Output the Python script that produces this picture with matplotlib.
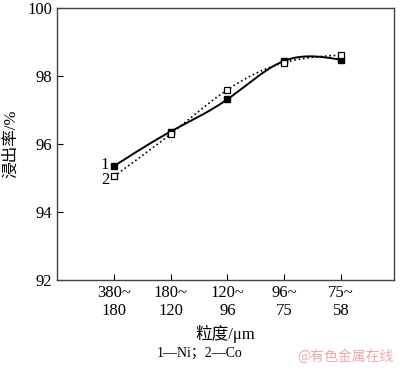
import numpy as np
import matplotlib.pyplot as plt

plt.rcParams['font.family'] = ['Liberation Serif', 'Noto Sans CJK SC']
plt.rcParams['mathtext.fontset'] = 'stix'

# particle size ranges (um)
size_labels = ['380~\n180', '180~\n120', '120~\n96', '96~\n75', '75~\n58']
# leaching rate, %
ni_rate = [95.35, 96.37, 97.32, 98.45, 98.48]
co_rate = [95.05, 96.30, 97.60, 98.40, 98.62]


def natural_spline(x, y, n=200):
    # plain natural cubic spline, no scipy needed
    x = np.asarray(x, float)
    y = np.asarray(y, float)
    k = len(x)
    h = np.diff(x)
    A = np.zeros((k, k))
    b = np.zeros(k)
    A[0, 0] = A[-1, -1] = 1
    for i in range(1, k - 1):
        A[i, i - 1] = h[i - 1]
        A[i, i] = 2 * (h[i - 1] + h[i])
        A[i, i + 1] = h[i]
        b[i] = 3 * ((y[i + 1] - y[i]) / h[i] - (y[i] - y[i - 1]) / h[i - 1])
    c = np.linalg.solve(A, b)
    xs = np.linspace(x[0], x[-1], n)
    ys = np.empty_like(xs)
    for j, t in enumerate(xs):
        i = min(np.searchsorted(x, t, side='right') - 1, k - 2)
        d = t - x[i]
        bi = (y[i + 1] - y[i]) / h[i] - h[i] * (2 * c[i] + c[i + 1]) / 3
        di = (c[i + 1] - c[i]) / (3 * h[i])
        ys[j] = y[i] + bi * d + c[i] * d ** 2 + di * d ** 3
    return xs, ys


xpos = np.arange(1, len(size_labels) + 1)

fig = plt.figure(figsize=(4, 3.7), dpi=100)
ax = fig.add_axes([0.1425, 0.243, 0.8425, 0.735])

xs, ys = natural_spline(xpos, ni_rate)
ax.plot(xs, ys, 'k-', lw=1.4)
xs, ys = natural_spline(xpos, co_rate)
ax.plot(xs, ys, 'k:', lw=1.2)
ax.plot(xpos, ni_rate, 's', color='k', ms=5, mec='k')
ax.plot(xpos, co_rate, 's', color='white', ms=5, mec='k', mew=0.9)

ax.text(xpos[0] - 0.08, ni_rate[0] + 0.05, '1', fontsize=12, ha='right', va='center')
ax.text(xpos[0] - 0.08, co_rate[0] - 0.12, '2', fontsize=12, ha='right', va='center')

ax.set_xlim(0, 5.93)
ax.set_ylim(92, 100)
ax.set_xticks(xpos)
ax.set_xticklabels(size_labels, fontsize=12, linespacing=1.2)
ax.set_yticks([92, 94, 96, 98, 100])
ax.tick_params(direction='in', labelsize=12, length=4, width=0.8, colors='k')
for s in ax.spines.values():
    s.set_linewidth(1.0)
    s.set_color('#444444')

ax.set_ylabel('浸出率/%', fontsize=12, labelpad=6)
ax.set_xlabel('粒度/μm', fontsize=12, labelpad=4)

fig.text(0.5, 0.045, '1—Ni；2—Co', fontsize=10, ha='center', va='center')
fig.text(0.985, 0.035, '@有色金属在线', fontsize=10, ha='right', va='center',
         color='#f0a8a8', family='Noto Sans CJK SC')

fig.savefig('out.png', dpi=100)
